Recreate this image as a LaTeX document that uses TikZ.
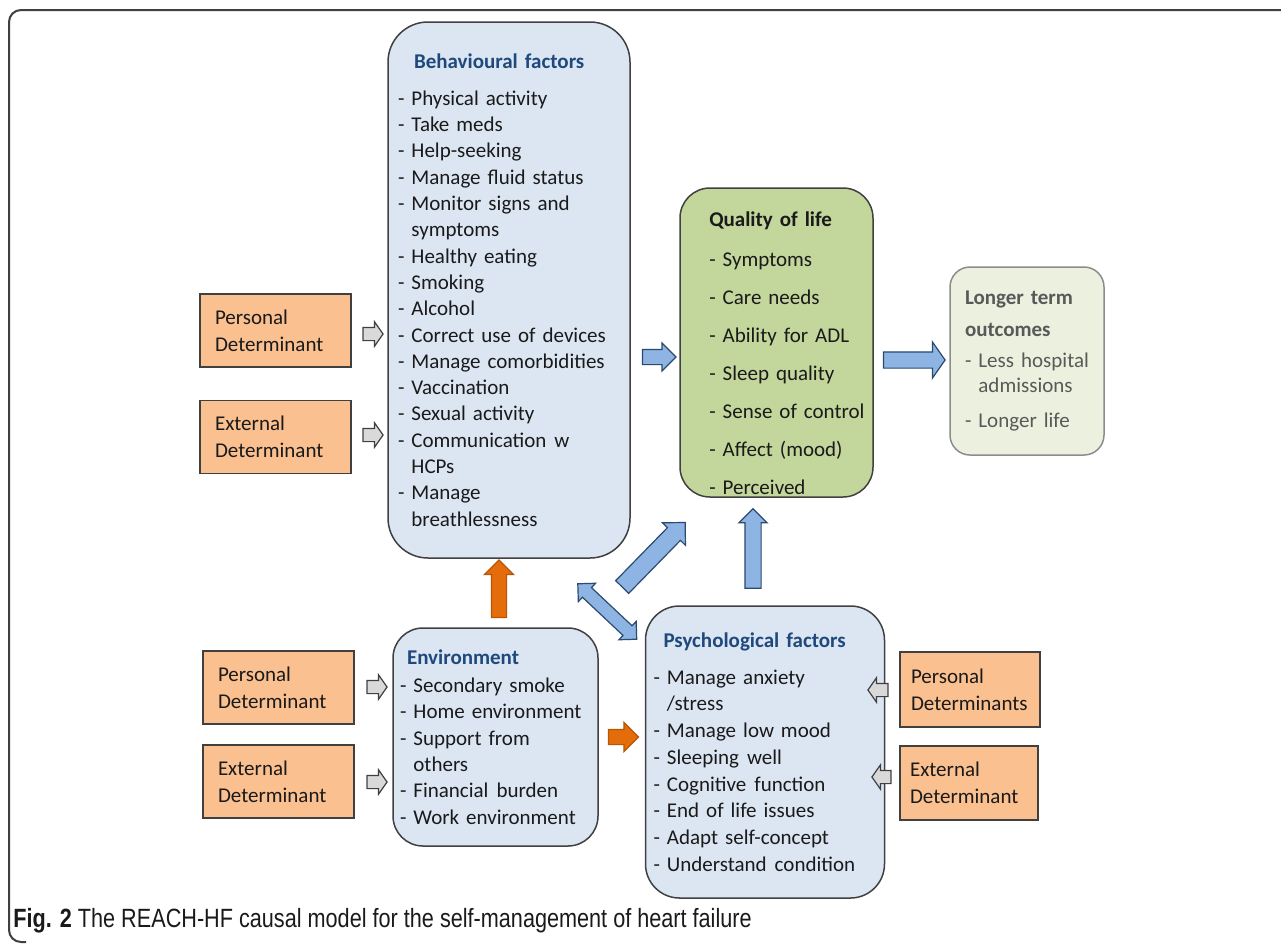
\documentclass[tikz,border=0pt]{standalone}
\usepackage{fontspec}
\setmainfont{Carlito}
\newfontfamily\capfont[FakeStretch=0.82]{Liberation Sans}
\usetikzlibrary{shapes.arrows,calc,positioning}

\definecolor{boxline}{HTML}{404040}
\definecolor{textcol}{HTML}{1A1A1A}
\definecolor{behfill}{HTML}{DCE6F2}
\definecolor{titleblue}{HTML}{1F497D}
\definecolor{qolfill}{HTML}{C3D69B}
\definecolor{ltofill}{HTML}{EBF1DE}
\definecolor{ltoline}{HTML}{8C8C8C}
\definecolor{ltotext}{HTML}{595959}
\definecolor{detfill}{HTML}{FAC090}
\definecolor{arrblue}{HTML}{8EB4E3}
\definecolor{arrblueline}{HTML}{2B4A6F}
\definecolor{arrorange}{HTML}{E46C0A}
\definecolor{arrorangeline}{HTML}{B65708}
\definecolor{arrgray}{HTML}{D9D9D9}

\newcommand{\cont}[1]{\hphantom{- }#1}
\newcommand{\wsp}{\hspace{4pt}}
\newcommand{\boxtitle}[1]{{\bfseries\color{titleblue}#1}}
% block arrow laid along the line from #2 to #3
\newcommand{\blockarrow}[3][]{%
  \path let \p1=($(#3)-(#2)$), \n1={veclen(\x1,\y1)} in
    (#2) -- (#3) node[midway, sloped, allow upside down, minimum height=\n1, #1] {};}

\tikzset{
  factorbox/.style={draw=boxline, fill=behfill, line width=0.75pt, rounded corners=#1,
    align=left, inner ysep=0pt, text=textcol},
  factorbox/.default=15pt,
  detbox/.style={draw=boxline, fill=detfill, line width=0.75pt, align=left,
    minimum width=75.5pt, minimum height=36.5pt, text width=60.5pt, inner xsep=7.5pt,
    text=textcol, font=\fontsize{10.5}{13.5}\selectfont},
  blockarr/.style={single arrow, inner sep=0pt, text depth=0pt, minimum width=0pt, line width=0.6pt},
  grayarr/.style={blockarr, fill=arrgray, draw=boxline, text height=6pt,
    single arrow head extend=2.8pt, single arrow tip angle=110},
  orangearr/.style={blockarr, fill=arrorange, draw=arrorangeline, text height=7pt,
    single arrow head extend=3.5pt},
  bluearr/.style={blockarr, fill=arrblue, draw=arrblueline, text height=#1,
    single arrow head extend=3.2pt},
  bluearr/.default=7pt
}

\begin{document}
\begin{tikzpicture}[x=0.5pt, y=-0.5pt, font=\fontsize{10.5}{13.15}\selectfont]
\useasboundingbox (0,0) rectangle (1281,944);

% outer frame
\draw[boxline, line width=1pt, rounded corners=6pt] (26,942) -- (9,942) -- (9,10) -- (1281,10);

% behavioural factors
\node[factorbox=20pt, minimum width=121pt, minimum height=268pt, text width=111pt, inner xsep=5pt,
  font=\fontsize{10.5}{13.15}\selectfont] (beh) at (509,290) {%
  \hspace*{8pt}\boxtitle{Behavioural factors}\\[5.3pt]
  - Physical activity\\
  - Take meds\\
  - Help-seeking\\
  - Manage fluid status\\
  - Monitor signs and\\
  \cont{symptoms}\\
  - Healthy eating\\
  - Smoking\\
  - Alcohol\\
  - Correct use of devices\\
  - Manage comorbidities\\
  - Vaccination\\
  - Sexual activity\\
  - Communication\wsp w\\
  \cont{HCPs}\\
  - Manage\\
  \cont{breathlessness}};

% quality of life, text cut off by the box
\node[draw=boxline, fill=qolfill, line width=0.75pt, rounded corners=15pt,
  minimum width=96.5pt, minimum height=154.5pt,
  path picture={\node[anchor=north west, inner sep=0pt, align=left, text width=85pt, text=textcol,
    font=\fontsize{10.5}{19}\selectfont]
    at ([xshift=8.5pt, yshift=-10pt]path picture bounding box.north west) {%
    \textbf{Quality of life}\\[1pt]
    - Symptoms\\
    - Care needs\\
    - Ability for ADL\\
    - Sleep quality\\
    - Sense of control\\
    - Affect (mood)\\
    - Perceived\\[-9pt]
    \cont{health}};}] (qol) at (776.5,342.5) {};

% longer term outcomes
\node[factorbox=10pt, fill=ltofill, draw=ltoline, text=ltotext, minimum width=77pt, minimum height=94pt,
  text width=62pt, inner xsep=7.5pt, font=\fontsize{10.5}{12.5}\selectfont] (lto) at (1027,361) {%
  \textbf{Longer term}\\[3.5pt]
  \textbf{outcomes}\\[3pt]
  - Less hospital\\
  \cont{admissions}\\[5pt]
  - Longer life};

% environment
\node[factorbox=15pt, minimum width=102.5pt, minimum height=109pt, text width=95.5pt, inner xsep=3.5pt,
  font=\fontsize{10.5}{13.2}\selectfont] (env) at (495.5,737) {%
  \hspace*{3.5pt}\boxtitle{Environment}\\[0.8pt]
  - Secondary smoke\\
  - Home environment\\
  - Support from\\
  \cont{others}\\
  - Financial\wsp burden\\
  - Work environment};

% psychological factors
\node[factorbox=17pt, minimum width=119.5pt, minimum height=146pt, text width=111.5pt, inner xsep=4pt,
  font=\fontsize{10.5}{13.35}\selectfont] (psy) at (765,752) {%
  \hspace*{5pt}\boxtitle{Psychological factors}\\[5pt]
  - Manage anxiety\\
  \cont{/stress}\\
  - Manage low mood\\
  - Sleeping\wsp well\\
  - Cognitive\wsp function\\
  - End of life issues\\
  - Adapt self-concept\\
  - Understand\wsp condition};

% determinants
\node[detbox] (pd1) at (275.5,330.5) {Personal\\Determinant};
\node[detbox] (ed1) at (275.5,437) {External\\Determinant};
\node[detbox] (pd2) at (278.5,687.5) {Personal\\Determinant};
\node[detbox] (ed2) at (278.5,781.5) {External\\Determinant};
\node[detbox, minimum width=70pt, text width=59pt, inner xsep=5.5pt, minimum height=37.5pt] (pd3) at (970,689.5) {Personal\\Determinants};
\node[detbox, minimum width=69pt, text width=59pt, inner xsep=5pt, minimum height=37pt] (ed3) at (969,783) {External\\Determinant};

% arrow ends
\coordinate (g1a) at ($(pd1.east)+(9,3.5)$);   \coordinate (g1b) at ($(pd1.east)+(29,3.5)$);
\coordinate (g2a) at ($(ed1.east)+(9,-2)$);    \coordinate (g2b) at ($(ed1.east)+(29,-2)$);
\coordinate (g3a) at ($(pd2.east)+(10,-0.5)$); \coordinate (g3b) at ($(pd2.east)+(30,-0.5)$);
\coordinate (g4a) at ($(ed2.east)+(10,0.5)$);  \coordinate (g4b) at ($(ed2.east)+(30,0.5)$);
\coordinate (g5a) at ($(pd3.west)+(-9,0.5)$);  \coordinate (g5b) at ($(pd3.west)+(-29,0.5)$);
\coordinate (g6a) at ($(ed3.west)+(-6,-6)$);   \coordinate (g6b) at ($(ed3.west)+(-25,-6)$);
\coordinate (o1a) at ($(env.north)+(3.5,-6)$); \coordinate (o1b) at ($(beh.south)+(-10,5)$);
\coordinate (o2a) at ($(env.east)+(6,0)$);     \coordinate (o2b) at ($(psy.west)+(-10,-15)$);
\coordinate (b1a) at ($(beh.east)+(8,67)$);    \coordinate (b1b) at ($(qol.west)+(-7,14.5)$);
\coordinate (b2a) at ($(qol.east)+(7,17.5)$);  \coordinate (b2b) at ($(lto.west)+(-7,-1)$);
\coordinate (b3a) at ($(psy.north)+(-146,-15)$); \coordinate (b3b) at ($(qol.south)+(-94.5,28)$);
\coordinate (b4a) at ($(psy.north)+(-12,-13)$);  \coordinate (b4b) at ($(qol.south)+(-23.5,15)$);
\coordinate (b5a) at ($(beh.south east)+(-53,25)$); \coordinate (b5b) at ($(psy.north west)+(-8,34)$);

% arrows
\blockarrow[grayarr]{g1a}{g1b}
\blockarrow[grayarr]{g2a}{g2b}
\blockarrow[grayarr]{g3a}{g3b}
\blockarrow[grayarr]{g4a}{g4b}
\blockarrow[grayarr]{g5a}{g5b}
\blockarrow[grayarr]{g6a}{g6b}
\blockarrow[orangearr]{o1a}{o1b}
\blockarrow[orangearr]{o2a}{o2b}
\blockarrow[bluearr]{b1a}{b1b}
\blockarrow[bluearr=7.5pt, single arrow head extend=5pt, single arrow tip angle=110]{b2a}{b2b}
\blockarrow[bluearr=8.5pt, single arrow head extend=3.5pt]{b3a}{b3b}
\blockarrow[bluearr=7.5pt, single arrow head extend=3pt]{b4a}{b4b}
\blockarrow[blockarr, double arrow, fill=arrblue, draw=arrblueline, text height=6pt,
  double arrow head extend=3pt]{b5a}{b5b}

% caption
\node[anchor=west, inner sep=0pt, text=textcol, font=\capfont\fontsize{13.2}{15}\selectfont] (cap) at (13,921)
  {\textbf{Fig. 2} The REACH-HF causal model for the self-management of heart failure};
\end{tikzpicture}
\end{document}
